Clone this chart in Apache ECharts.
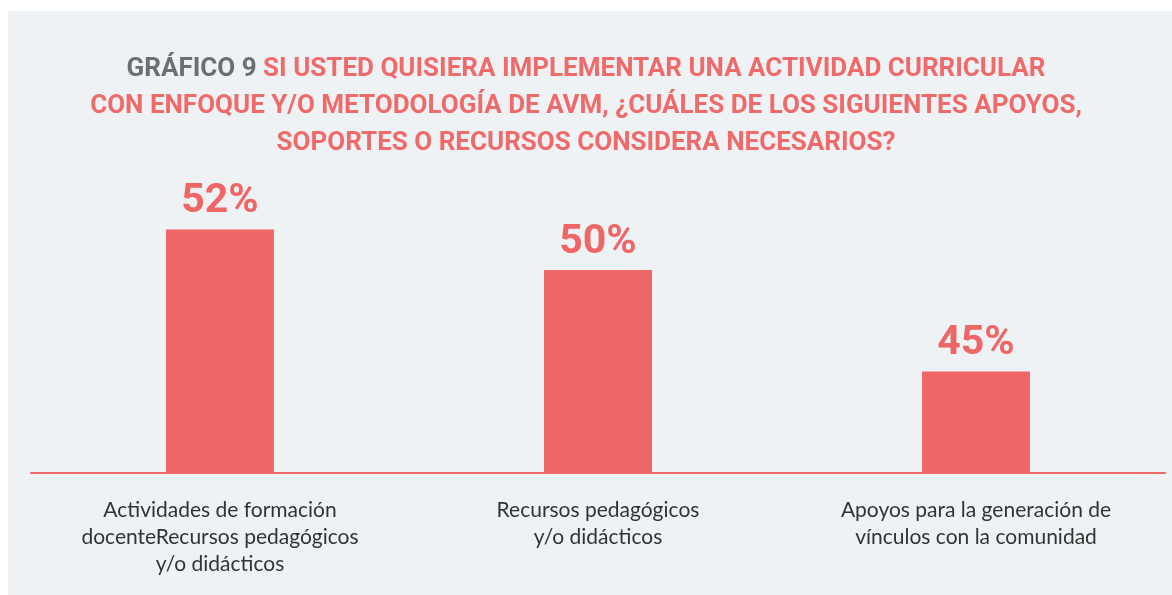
<!DOCTYPE html>
<html lang="es">

<head>
    <meta charset="UTF-8">
    <title>Gráfico 9</title>
    <style>
        html, body {
            margin: 0;
            padding: 0;
            background: #fff;
        }

        #chartmain {
            width: 1172px;
            height: 595px;
        }
    </style>
</head>

<body>
    <div id="chartmain"></div>
    <script src="https://cdn.jsdelivr.net/npm/echarts@6/dist/echarts.min.js"></script>
    <script type="text/javascript">
        var categories = [
            'Actividades de formación\ndocenteRecursos pedagógicos\ny/o didácticos',
            'Recursos pedagógicos\ny/o didácticos',
            'Apoyos para la generación de\nvínculos con la comunidad'
        ];
        var values = [52, 50, 45];

        var red = '#ef6667';
        var titleFont = 'Roboto, sans-serif';
        var mychart = echarts.init(document.getElementById('chartmain'));

        var option = {
            backgroundColor: '#ffffff',
            animation: false,
            // panel gris de fondo
            graphic: [{
                type: 'rect',
                left: 8,
                top: 11,
                z: -10,
                shape: { width: 1164, height: 584 },
                style: { fill: '#eef2f5' }
            }],
            title: {
                left: 'center',
                top: 46,
                text: '{g|GRÁFICO 9} {r|SI USTED QUISIERA IMPLEMENTAR UNA ACTIVIDAD CURRICULAR}\n' +
                    '{r|CON ENFOQUE Y/O METODOLOGÍA DE AVM, ¿CUÁLES DE LOS SIGUIENTES APOYOS,}\n' +
                    '{r|SOPORTES O RECURSOS CONSIDERA NECESARIOS?}',
                textStyle: {
                    fontFamily: titleFont,
                    fontWeight: 'bold',
                    fontSize: 26,
                    lineHeight: 37,
                    align: 'center',
                    rich: {
                        g: {
                            color: '#6d6e70',
                            fontFamily: titleFont,
                            fontWeight: 'bold',
                            fontSize: 26,
                            lineHeight: 37
                        },
                        r: {
                            color: '#f06a6a',
                            fontFamily: titleFont,
                            fontWeight: 'bold',
                            fontSize: 26,
                            lineHeight: 37
                        }
                    }
                }
            },
            grid: {
                left: 31,
                right: 7,
                top: 67,
                bottom: 122
            },
            xAxis: {
                type: 'category',
                data: categories,
                axisTick: { show: false },
                axisLine: {
                    lineStyle: { color: red, width: 2 }
                },
                axisLabel: {
                    interval: 0,
                    margin: 24,
                    color: '#333333',
                    fontFamily: 'Lato, "Open Sans", sans-serif',
                    fontSize: 21,
                    lineHeight: 27
                }
            },
            yAxis: {
                type: 'value',
                min: 40,
                max: 60,
                show: false,
                splitLine: { show: false }
            },
            series: [{
                type: 'bar',
                barWidth: 108,
                data: values,
                itemStyle: { color: red },
                label: {
                    show: true,
                    position: 'top',
                    distance: 7,
                    formatter: '{c}%',
                    color: red,
                    fontFamily: titleFont,
                    fontWeight: 'bold',
                    fontSize: 41
                }
            }]
        };
        mychart.setOption(option, true);
    </script>
</body>

</html>
